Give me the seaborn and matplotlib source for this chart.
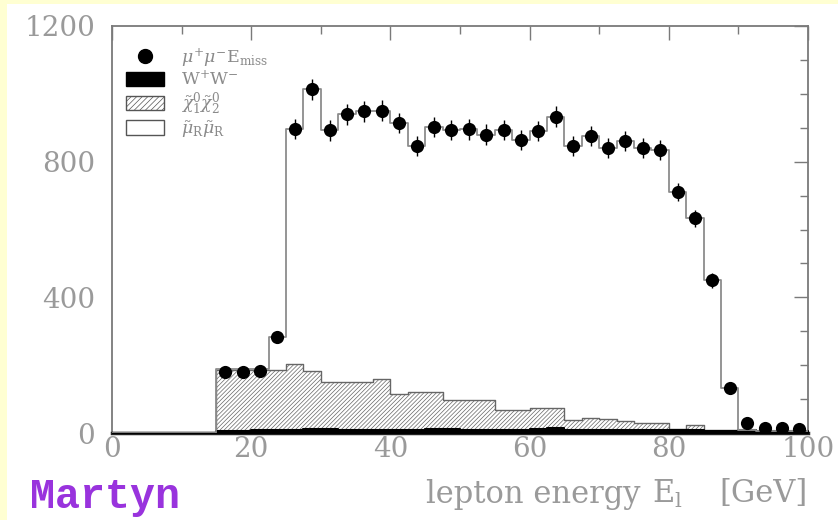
import numpy as np
import matplotlib
matplotlib.use("Agg")
import matplotlib.pyplot as plt
import seaborn as sns
from matplotlib.patches import Patch, Rectangle
from matplotlib.lines import Line2D

# ---------------- data ----------------
bin_edges = [0, 2.5, 5, 7.5, 10, 12.5, 15, 17.5, 20, 22.5, 25, 27.5, 30, 32.5, 35,
             37.5, 40, 42.5, 45, 47.5, 50, 52.5, 55, 57.5, 60, 62.5, 65, 67.5, 70,
             72.5, 75, 77.5, 80, 82.5, 85, 87.5, 90, 92.5, 95, 97.5, 100]
bin_centers = [0.5 * (a + b) for a, b in zip(bin_edges[:-1], bin_edges[1:])]

# total MC (smuon + chi + WW) outline
mc_total = [0, 0, 0, 0, 0, 0,
            190, 190, 190, 282, 897, 1013, 892, 940, 948, 950,
            914, 846, 903, 893, 895, 880, 893, 863, 890, 933,
            847, 875, 840, 860, 840, 835, 710, 633, 450, 132,
            8, 6, 6, 6]
# W+W- background
ww = [0, 0, 0, 0, 0, 0,
      6, 6, 8, 10, 10, 12, 12, 10, 8, 8,
      8, 10, 12, 12, 10, 8, 8, 10, 12, 14,
      10, 8, 8, 8, 8, 8, 8, 8, 6, 6,
      8, 6, 6, 6]
# chi01 chi02 (stacked on WW)
chi = [0, 0, 0, 0, 0, 0,
       179, 179, 177, 175, 193, 171, 138, 140, 142, 150,
       107, 112, 110, 85, 87, 89, 60, 58, 61, 59,
       28, 35, 32, 27, 22, 22, 4, 17, 2, 2,
       0, 0, 0, 0]

data_energy = [16.25, 18.75, 21.25, 23.75, 26.25, 28.75, 31.25, 33.75, 36.25, 38.75,
               41.25, 43.75, 46.25, 48.75, 51.25, 53.75, 56.25, 58.75, 61.25, 63.75,
               66.25, 68.75, 71.25, 73.75, 76.25, 78.75, 81.25, 83.75, 86.25, 88.75,
               91.25, 93.75, 96.25, 98.75]
data_counts = [180, 180, 182, 282, 897, 1013, 892, 940, 948, 950,
               914, 846, 903, 893, 895, 880, 893, 863, 890, 933,
               847, 875, 840, 860, 840, 835, 710, 633, 450, 132,
               30, 16, 14, 11]

legend_labels = [r'$\mu^{+}\mu^{-}{\rm E}_{\rm miss}$', r'${\rm W}^{+}{\rm W}^{-}$',
                 r'$\tilde{\chi}^{0}_{1}\tilde{\chi}^{0}_{2}$',
                 r'$\tilde{\mu}_{\rm R}\tilde{\mu}_{\rm R}$']
x_ticks = [0, 20, 40, 60, 80, 100]
y_ticks = [0, 400, 800, 1200]

# ---------------- style ----------------
sns.set_theme(style="white")
plt.rcParams['font.family'] = ['DejaVu Serif']
plt.rcParams['mathtext.fontset'] = 'dejavuserif'
plt.rcParams['hatch.linewidth'] = 0.5
plt.rcParams['hatch.color'] = '#9a9a9a'

W, H = 838, 520
fig = plt.figure(figsize=(W / 100, H / 100), dpi=100, facecolor='#ffffd2')
fig.add_artist(Rectangle((7 / W, 0), 1, 1 - 4 / H, transform=fig.transFigure,
                         facecolor='white', edgecolor='none', zorder=0))

ax = fig.add_axes([112 / W, 1 - 433 / H, (808 - 112) / W, (433 - 26) / H])
ax.set_facecolor('white')

hist_top = [a + b for a, b in zip(ww, chi)]

# chi hatched (stacked on WW)
sns.histplot(x=bin_centers, weights=hist_top, bins=bin_edges, element="step",
             fill=True, color='white', alpha=1, edgecolor='#666666', linewidth=1.0,
             ax=ax, zorder=2)
ax.collections[-1].set_hatch('////////')
ax.collections[-1].set_facecolor('white')

# WW black
sns.histplot(x=bin_centers, weights=ww, bins=bin_edges, element="step",
             fill=True, color='black', alpha=1, edgecolor='black', linewidth=1.5,
             ax=ax, zorder=3)

# total MC outline
sns.histplot(x=bin_centers, weights=mc_total, bins=bin_edges, element="step",
             fill=False, color='#8c8c8c', linewidth=1.3, ax=ax, zorder=4)

# data points with errors
ax.errorbar(data_energy, data_counts, yerr=np.sqrt(data_counts), fmt='none',
            ecolor='black', elinewidth=1.0, capsize=0, zorder=5)
sns.scatterplot(x=data_energy, y=data_counts, color='black', s=90,
                edgecolor='black', linewidth=0, ax=ax, zorder=6, legend=False)

# axes
ax.set_xlim(0, 100)
ax.set_ylim(0, 1200)
ax.set_xticks(x_ticks)
ax.set_yticks(y_ticks)
ax.set_xticks(np.arange(10, 100, 20), minor=True)
ax.set_yticks([v for v in range(100, 1200, 100) if v % 400], minor=True)
ax.set_xlabel('')
ax.set_ylabel('')
for s in ax.spines.values():
    s.set_color('#7a7a7a')
    s.set_linewidth(1.3)
ax.spines['bottom'].set_color('#222222')
ax.spines['bottom'].set_linewidth(2.5)
ax.tick_params(which='both', direction='in', top=True, right=True, color='#7a7a7a',
               width=1.0)
ax.tick_params(which='major', length=10, labelsize=20, labelcolor='#9a9a9a', pad=2)
ax.tick_params(axis='y', which='major', pad=12)
ax.tick_params(which='minor', length=6)

handles = [Line2D([], [], marker='o', color='black', linestyle='none', markersize=10),
           Patch(facecolor='black', edgecolor='black'),
           Patch(facecolor='white', edgecolor='#555555', hatch='//////'),
           Patch(facecolor='white', edgecolor='#555555')]
leg = ax.legend(handles, legend_labels, loc='upper left', bbox_to_anchor=(0.02, 0.95),
                frameon=False, fontsize=12.5, handlelength=2.2, handleheight=0.9,
                handletextpad=1.0, labelspacing=0.08, borderpad=0, borderaxespad=0,
                labelcolor='#8a8a8a')

label_y = 1 - 494 / H
fig.text(640 / W, label_y, 'lepton energy', ha='right', va='center', fontsize=22,
         color='#9a9a9a')
fig.text(652 / W, label_y, r'E$_{\rm l}$', ha='left', va='center', fontsize=22,
         color='#9a9a9a')
fig.text(808 / W, label_y, '[GeV]', ha='right', va='center', fontsize=22,
         color='#9a9a9a')
fig.text(30 / W, 1 - 497 / H, 'Martyn', ha='left', va='center', fontsize=30,
         family='Liberation Mono', weight='bold', color='#9933dd')

fig.savefig('out.png', dpi=100, facecolor=fig.get_facecolor())
